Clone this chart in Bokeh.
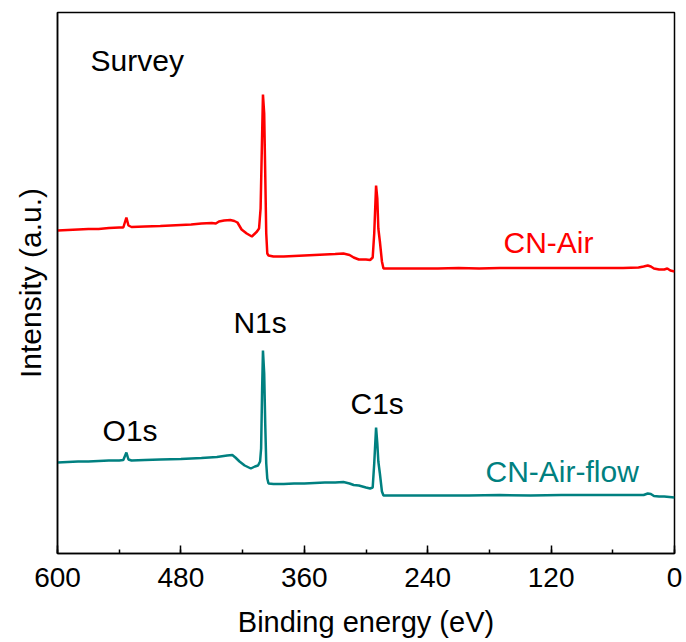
from bokeh.plotting import figure
from bokeh.models import Range1d, SingleIntervalTicker, Label, FixedTicker
from bokeh.embed import file_html
from bokeh.resources import INLINE

# CN-Air (red) survey spectrum: binding energy (eV) and intensity (a.u.)
be_air = [600, 590, 580, 570, 560, 550, 540, 536, 533, 531, 528, 515, 500, 490, 480, 470,
          460, 450, 446, 443, 438, 432, 428, 425, 421, 416, 411, 406, 404, 402.5, 401, 400.2,
          399, 398, 397, 396, 394.8, 390, 380, 370, 360, 350, 340, 330, 322, 316, 312, 307,
          300, 296, 293.5, 292, 290.2, 289, 288, 286.5, 284.5, 283, 270, 250, 230, 210, 190,
          170, 150, 130, 110, 90, 70, 50, 35, 30, 26, 23, 20, 15, 10, 7, 4, 0]
int_air = [323, 323.5, 324, 324.5, 324.5, 325.5, 326, 326, 336, 328, 326.5, 327, 327.5, 328, 328.5, 329,
           330, 330.5, 330, 332, 333, 333.5, 332.5, 331, 324, 320, 317, 322, 325, 345, 420, 459,
           440, 380, 320, 300, 298, 297, 297, 297.5, 298, 298.5, 299, 299.5, 300, 298.5, 296, 294,
           294, 293.5, 296, 320, 368, 355, 325, 312, 292, 285, 285, 285, 285, 285.5, 285,
           285.5, 285.5, 285.5, 285.5, 285.5, 285.5, 285.5, 286, 287, 288, 287, 285, 284, 284, 285, 283, 282]

# CN-Air-flow (teal) survey spectrum
be_flow = [600, 590, 580, 570, 560, 550, 540, 536, 533, 531, 528, 515, 500, 480, 460, 445,
           435, 430, 427, 423, 418, 412, 408, 405, 403, 402, 401, 400.2, 399, 398, 397, 396,
           394.8, 390, 380, 370, 360, 350, 340, 330, 322, 316, 312, 307, 300, 296, 293.5, 292,
           290.2, 289, 288, 286.5, 284.5, 283, 260, 230, 200, 170, 140, 110, 80, 50, 35, 30,
           26, 23, 20, 15, 10, 5, 0]
int_flow = [91, 91.5, 92, 92, 92.5, 93, 93, 93.5, 101, 94, 93, 93.5, 94, 94.5, 95.5, 96.5,
            98, 98.5, 96, 92, 88, 85, 87, 88, 92, 105, 165, 203, 180, 130, 90, 75,
            70, 69.5, 69.5, 70, 70, 70.5, 71, 71, 71.5, 70, 68.5, 68, 66, 65, 66, 90,
            126, 110, 92, 80, 62, 58, 58, 58, 58, 58.5, 58, 58.5, 58.5, 58.5, 58.5, 58.5,
            60, 59.5, 57.5, 57, 57, 56.5, 56]

annotations = [
    ("Survey", 567.9, 493, "black"),
    ("CN-Air", 166.3, 311, "#ff0000"),
    ("CN-Air-flow", 183.8, 82, "#008080"),
    ("N1s", 428.9, 231, "black"),
    ("O1s", 556.2, 123, "black"),
    ("C1s", 315.1, 150, "black"),
]

FONT = "Liberation Sans"

p = figure(width=686, height=642, output_backend="svg", toolbar_location=None,
           x_range=Range1d(600, 0), y_range=Range1d(0, 541),
           min_border_left=57, min_border_right=12, min_border_top=12, min_border_bottom=89)

p.line(be_air, int_air, line_color="#ff0000", line_width=2.5)
p.line(be_flow, int_flow, line_color="#008080", line_width=2.5)

p.xgrid.visible = False
p.ygrid.visible = False
p.outline_line_color = "black"
p.outline_line_width = 1.5
p.outline_line_alpha = 1.0
p.background_fill_color = "white"
p.border_fill_color = "white"

xa = p.xaxis[0]
xa.ticker = SingleIntervalTicker(interval=120, num_minor_ticks=2)
xa.axis_label = "Binding energy (eV)"
xa.axis_label_text_font = FONT
xa.axis_label_text_font_size = "29px"
xa.axis_label_text_font_style = "normal"
xa.axis_label_text_color = "black"
xa.axis_label_standoff = 16
xa.major_label_text_font = FONT
xa.major_label_text_font_size = "28px"
xa.major_label_text_color = "black"
xa.major_label_standoff = 14
xa.major_tick_in = 8
xa.major_tick_out = 0
xa.minor_tick_in = 4
xa.minor_tick_out = 0
xa.axis_line_width = 1.5
xa.axis_line_color = "black"
xa.major_tick_line_width = 1.5
xa.minor_tick_line_width = 1.5

ya = p.yaxis[0]
ya.ticker = FixedTicker(ticks=[])
ya.major_label_text_font_size = "0px"
ya.axis_label = "Intensity (a.u.)"
ya.axis_label_text_font = FONT
ya.axis_label_text_font_size = "30px"
ya.axis_label_text_font_style = "normal"
ya.axis_label_text_color = "black"
ya.axis_label_standoff = 11
ya.major_tick_in = 0
ya.major_tick_out = 0
ya.minor_tick_in = 0
ya.minor_tick_out = 0
ya.axis_line_width = 1.5
ya.axis_line_color = "black"

for txt, x, y, col in annotations:
    p.add_layout(Label(x=x, y=y, text=txt, text_color=col, text_font=FONT,
                       text_font_size="30px", text_align="left", text_baseline="middle"))

open("out.html", "w").write(file_html(p, INLINE))
